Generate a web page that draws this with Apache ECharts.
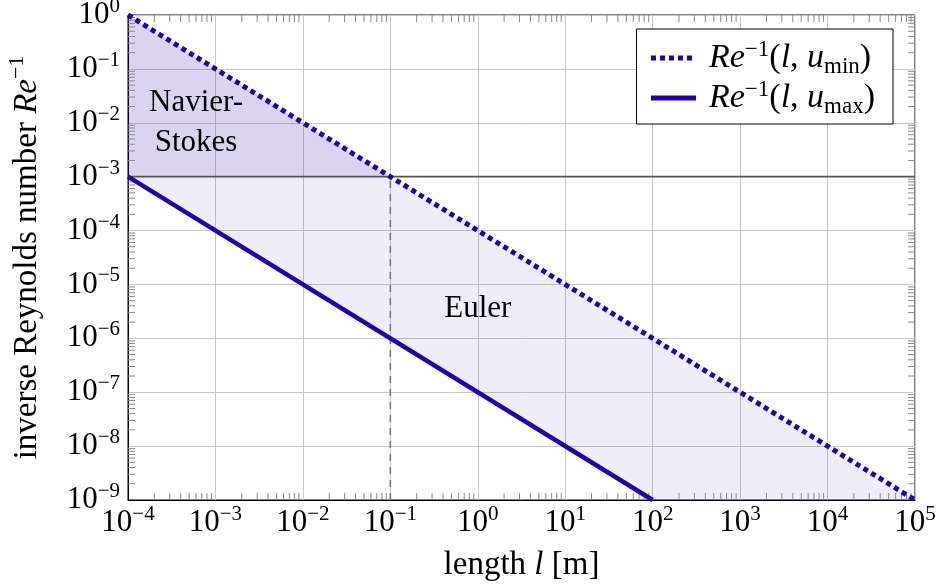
<!DOCTYPE html>
<html>
<head>
<meta charset="utf-8">
<script src="https://cdn.jsdelivr.net/npm/echarts@6/dist/echarts.min.js"></script>
<style>
html, body { margin: 0; padding: 0; background: #fff; }
#chart { width: 939px; height: 588px; }
</style>
</head>
<body>
<div id="chart"></div>
<script>
// data
var lengthRange = [1e-4, 1e5];
var reRange = [1e-9, 1];
var reMinLine = [[1e-4, 1], [1e5, 1e-9]];        // Re^-1(l, u_min)
var reMaxLine = [[1e-4, 1e-3], [1e2, 1e-9]];     // Re^-1(l, u_max)
var criticalLine = [[1e-4, 1e-3], [1e5, 1e-3]];
var transitionLine = [[0.1, 1e-9], [0.1, 1e-3]];
var navierStokesRegion = [[1e-4, 1], [0.1, 1e-3], [1e-4, 1e-3]];
var eulerRegion = [[1e-4, 1e-3], [0.1, 1e-3], [1e5, 1e-9], [1e2, 1e-9]];
var regionLabels = [
    { name: 'Navier-\nStokes', value: [6e-4, 1e-2] },
    { name: 'Euler', value: [1, 3.5e-6] }
];
var minorMultiples = [2, 3, 4, 5, 6, 7, 8, 9];
var xDecades = [-4, -3, -2, -1, 0, 1, 2, 3, 4];
var yDecades = [-9, -8, -7, -6, -5, -4, -3, -2, -1];

var FONT = '"Liberation Serif", "DejaVu Serif", serif';
var BLUE = '#2200aa';
var FS = 31, SS = 21, NS = 33;

var xMinor = [];
xDecades.forEach(function (d) {
    minorMultiples.forEach(function (m) { xMinor.push([m * Math.pow(10, d), reRange[0]]); });
});
var yMinor = [];
yDecades.forEach(function (d) {
    minorMultiples.forEach(function (m) { yMinor.push([lengthRange[0], m * Math.pow(10, d)]); });
});

function powLabel(value) {
    var e = Math.round(Math.log10(value));
    return '{b|10}{s|' + String(e).replace('-', '\u2212') + '}';
}

var labelRich = {
    b: { fontFamily: FONT, fontSize: FS, color: '#000', lineHeight: 38 },
    s: { fontFamily: FONT, fontSize: SS, color: '#000', lineHeight: 22, verticalAlign: 'top' }
};

function polygonSeries(points, color) {
    return {
        type: 'custom',
        silent: true,
        z: 1,
        data: [points[0]],
        renderItem: function (params, api) {
            return {
                type: 'polygon',
                shape: { points: points.map(function (p) { return api.coord(p); }) },
                style: { fill: color }
            };
        }
    };
}

var dom = document.getElementById('chart');
var myChart = echarts.init(dom);

var option = {
    animation: false,
    backgroundColor: '#fff',
    grid: {
        left: 128,
        right: 24,
        top: 15,
        bottom: 88,
        outerBoundsMode: 'none',
        containLabel: false,
        show: true,
        borderColor: '#000',
        borderWidth: 1,
        backgroundColor: 'rgba(0,0,0,0)'
    },
    legend: {
        top: 29,
        right: 46,
        orient: 'vertical',
        backgroundColor: '#fff',
        borderColor: '#000',
        borderWidth: 1,
        borderRadius: 0,
        padding: [9, 18, 6, 12],
        itemGap: 0,
        itemWidth: 45,
        itemHeight: 12,
        itemStyle: { opacity: 0 },
        lineStyle: { width: 5, cap: 'butt' },
        data: ['min', 'max'],
        formatter: function (name) {
            return '{f|Re}{s|\u22121}{n|(}{i|l}{n|, }{i|u}{u|' + name + '}{n|)}';
        },
        textStyle: {
            rich: {
                f: { fontFamily: FONT, fontStyle: 'italic', fontSize: 34, lineHeight: 40, color: '#000', padding: [0, 0, 0, 8] },
                i: { fontFamily: FONT, fontStyle: 'italic', fontSize: 34, lineHeight: 40, color: '#000' },
                n: { fontFamily: FONT, fontSize: 34, lineHeight: 40, color: '#000' },
                s: { fontFamily: FONT, fontSize: 23, lineHeight: 24, verticalAlign: 'top', color: '#000' },
                u: { fontFamily: FONT, fontSize: 23, lineHeight: 26, verticalAlign: 'bottom', color: '#000' }
            }
        }
    },
    xAxis: {
        type: 'log',
        logBase: 10,
        min: lengthRange[0],
        max: lengthRange[1],
        splitNumber: 9,
        name: '{r|length }{i|l}{r| [m]}',
        nameLocation: 'middle',
        nameGap: 49,
        nameTextStyle: {
            rich: {
                r: { fontFamily: FONT, fontSize: NS, color: '#000' },
                i: { fontFamily: FONT, fontSize: NS, fontStyle: 'italic', color: '#000' }
            }
        },
        axisLine: { lineStyle: { color: '#000', width: 1 } },
        axisTick: { show: false },
        splitLine: { show: true, lineStyle: { color: '#c8c8c8', width: 1 } },
        axisLabel: { interval: 0, margin: 4, formatter: powLabel, rich: labelRich }
    },
    yAxis: {
        type: 'log',
        logBase: 10,
        min: reRange[0],
        max: reRange[1],
        splitNumber: 9,
        name: '{r|inverse Reynolds number }{i|Re}{s|\u22121}',
        nameLocation: 'middle',
        nameRotate: 90,
        nameGap: 80,
        nameTextStyle: {
            rich: {
                r: { fontFamily: FONT, fontSize: NS, color: '#000', lineHeight: 42 },
                i: { fontFamily: FONT, fontSize: NS, fontStyle: 'italic', color: '#000', lineHeight: 42 },
                s: { fontFamily: FONT, fontSize: 22, color: '#000', lineHeight: 26, verticalAlign: 'top' }
            }
        },
        axisLine: { lineStyle: { color: '#000', width: 1 } },
        axisTick: { show: false },
        splitLine: { show: true, lineStyle: { color: '#c8c8c8', width: 1 } },
        axisLabel: { interval: 0, margin: 8, formatter: powLabel, rich: labelRich }
    },
    series: [
        polygonSeries(eulerRegion, 'rgba(34,0,170,0.07)'),
        polygonSeries(navierStokesRegion, 'rgba(34,0,170,0.17)'),
        {
            type: 'custom',
            silent: true,
            z: 3,
            data: xMinor,
            renderItem: function (params, api) {
                var v = api.value(0);
                var b = api.coord([v, reRange[0]]);
                var t = api.coord([v, reRange[1]]);
                var st = { stroke: '#888', lineWidth: 1 };
                return {
                    type: 'group',
                    children: [
                        { type: 'line', shape: { x1: b[0], y1: b[1], x2: b[0], y2: b[1] - 7 }, style: st },
                        { type: 'line', shape: { x1: t[0], y1: t[1], x2: t[0], y2: t[1] + 7 }, style: st }
                    ]
                };
            }
        },
        {
            type: 'custom',
            silent: true,
            z: 3,
            data: yMinor,
            renderItem: function (params, api) {
                var v = api.value(1);
                var l = api.coord([lengthRange[0], v]);
                var r = api.coord([lengthRange[1], v]);
                var st = { stroke: '#888', lineWidth: 1 };
                return {
                    type: 'group',
                    children: [
                        { type: 'line', shape: { x1: l[0], y1: l[1], x2: l[0] + 7, y2: l[1] }, style: st },
                        { type: 'line', shape: { x1: r[0], y1: r[1], x2: r[0] - 7, y2: r[1] }, style: st }
                    ]
                };
            }
        },
        {
            type: 'line',
            silent: true,
            z: 4,
            symbol: 'none',
            data: criticalLine,
            lineStyle: { color: '#555', width: 1.6 }
        },
        {
            type: 'line',
            silent: true,
            z: 4,
            symbol: 'none',
            data: transitionLine,
            lineStyle: { color: '#777', width: 1.6, type: [7, 6] }
        },
        {
            name: 'max',
            type: 'line',
            z: 5,
            symbol: 'none',
            data: reMaxLine,
            lineStyle: { color: BLUE, width: 4.5 },
            itemStyle: { color: BLUE }
        },
        {
            name: 'min',
            type: 'line',
            z: 6,
            symbol: 'none',
            data: reMinLine,
            lineStyle: { color: BLUE, width: 5, type: [5, 4], cap: 'butt' },
            itemStyle: { color: BLUE }
        },
        {
            // region names
            type: 'custom',
            silent: true,
            z: 7,
            data: regionLabels,
            renderItem: function (params, api) {
                var item = regionLabels[params.dataIndex];
                var p = api.coord(item.value);
                return {
                    type: 'text',
                    x: p[0],
                    y: p[1],
                    style: {
                        text: item.name,
                        font: FS + 'px ' + FONT,
                        fill: '#000',
                        align: 'center',
                        verticalAlign: 'middle',
                        lineHeight: 40
                    }
                };
            }
        }
    ]
};

if (option && typeof option === 'object') {
    myChart.setOption(option, true);
}
</script>
</body>
</html>
